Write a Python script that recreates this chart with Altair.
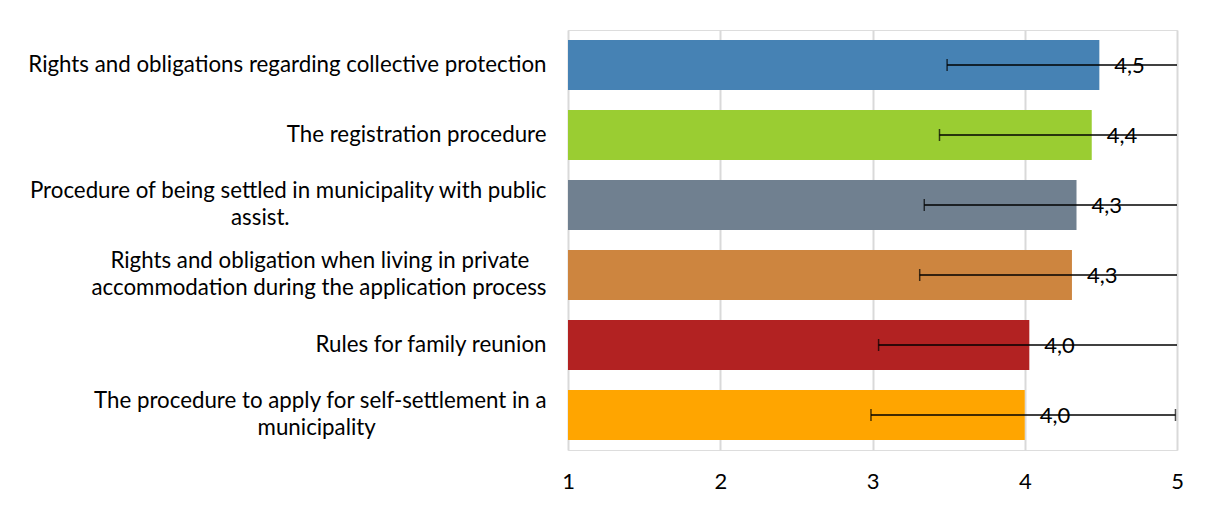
import altair as alt
import pandas as pd

# each category as its lines of text (as wrapped in the reference)
category_lines = [
    ["Rights and obligations regarding collective protection"],
    ["The registration procedure"],
    ["Procedure of being settled in municipality with public", "assist."],
    ["Rights and obligation when living in private", "accommodation during the application process"],
    ["Rules for family reunion"],
    ["The procedure to apply for self-settlement in a", "municipality"],
]
means = [4.49, 4.44, 4.34, 4.31, 4.03, 4.00]
lower = [3.49, 3.44, 3.34, 3.31, 3.04, 2.99]
upper = [5.49, 5.44, 5.34, 5.31, 5.04, 4.99]
colors = ["#4682B4", "#9ACD32", "#708090", "#CD853F", "#B22222", "#FFA500"]
x_ticks = [1, 2, 3, 4, 5]

# Vega right-aligns every line of a multi-line axis label; the reference centres
# the lines of a label within its block. Pad the shorter line with invisible
# no-break spaces (closed by a zero-width space so they are not trimmed).
NBSP = "\u00a0"
ZWSP = "\u200b"
pad_counts = [[0], [0], [0, 45], [3, 0], [0], [0, 30]]
categories = [
    "|".join(line + (NBSP * n + ZWSP if n else "") for line, n in zip(lines, pads))
    for lines, pads in zip(category_lines, pad_counts)
]

df = pd.DataFrame({
    "cat": categories,
    "mean": means,
    "lo": lower,
    "hi": upper,
    "base": [1] * len(categories),
    "label": [f"{v:.1f}".replace(".", ",") for v in means],
})

FONT = "Lato"
FS = 22

y_enc = alt.Y(
    "cat:N",
    sort=categories,
    scale=alt.Scale(paddingInner=0.286, paddingOuter=0.143),
    axis=alt.Axis(
        title=None,
        ticks=False,
        domain=False,
        labelLimit=800,
        labelPadding=22,
        labelFont=FONT,
        labelFontSize=22.3,
        labelLineHeight=27,
        labelColor="#000000",
        labelBaseline={
            "condition": {"test": "indexof(datum.value, '|') >= 0", "value": "line-bottom"},
            "value": "middle",
        },
        minExtent=540,
        maxExtent=540,
        labelExpr="split(datum.label, '|')",
    ),
)

x_scale = alt.Scale(domain=[1, 5], nice=False, zero=False)

bars = alt.Chart(df).mark_bar().encode(
    y=y_enc,
    x=alt.X(
        "base:Q",
        scale=x_scale,
        axis=alt.Axis(
            title=None,
            values=x_ticks,
            format="d",
            ticks=False,
            domain=False,
            grid=True,
            gridColor="#d9d9d9",
            gridWidth=2,
            labelFont=FONT,
            labelFontSize=FS,
            labelColor="#000000",
            labelPadding=21,
            labelFlush=False,
        ),
    ),
    x2="mean:Q",
    color=alt.Color("cat:N", scale=alt.Scale(domain=categories, range=colors), legend=None),
)

err = alt.Chart(df).mark_rule(color="#000000", strokeWidth=1.5, clip=True).encode(
    y=alt.Y("cat:N", sort=categories),
    x=alt.X("lo:Q", scale=x_scale),
    x2="hi:Q",
)

cap_lo = alt.Chart(df).mark_tick(color="#000000", thickness=1.5, size=12, orient="vertical", clip=True).encode(
    y=alt.Y("cat:N", sort=categories),
    x=alt.X("lo:Q", scale=x_scale),
)
cap_hi = alt.Chart(df).mark_tick(color="#000000", thickness=1.5, size=12, orient="vertical", clip=True).encode(
    y=alt.Y("cat:N", sort=categories),
    x=alt.X("hi:Q", scale=x_scale),
)

text = alt.Chart(df).mark_text(
    align="left", baseline="middle", dx=15, dy=1, font=FONT, fontSize=FS, color="#000000"
).encode(
    y=alt.Y("cat:N", sort=categories),
    x=alt.X("mean:Q", scale=x_scale),
    text="label:N",
)

chart = (
    alt.layer(bars, err, cap_lo, cap_hi, text)
    .properties(width=609, height=420, padding={"left": 19, "top": 22, "right": 20, "bottom": 0})
    .configure_view(stroke=None)
    .configure(background="white")
)

chart.save("out.html", embed_options={"renderer": "svg", "actions": False})
